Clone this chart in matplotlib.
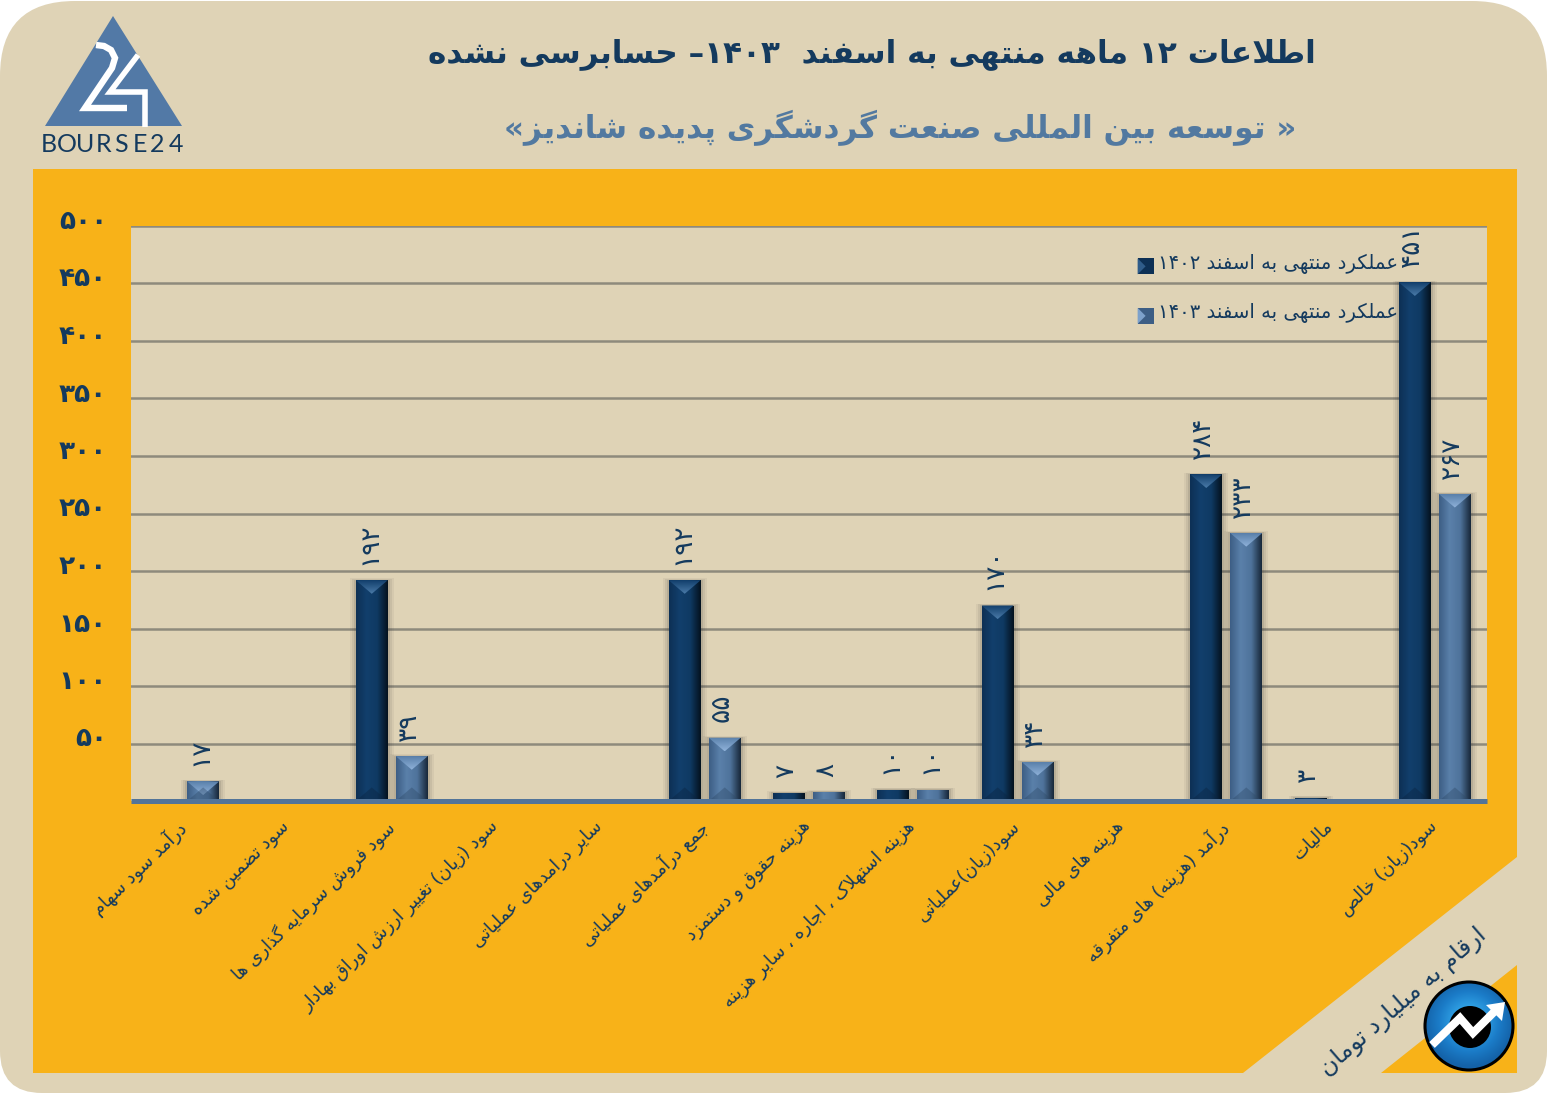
import re
import numpy as np
import matplotlib
matplotlib.use('Agg')
import matplotlib.pyplot as plt
from matplotlib.colors import LinearSegmentedColormap
from matplotlib.legend_handler import HandlerPatch
from matplotlib.patches import Circle, FancyBboxPatch, Polygon, Rectangle
from matplotlib.transforms import ScaledTranslation

# data
categories = ['درآمد سود سهام', 'سود تضمین شده', 'سود فروش سرمایه گذاری ها',
              'سود (زیان) تغییر ارزش اوراق بهادار', 'سایر درامدهای عملیاتی',
              'جمع درآمدهای عملیاتی', 'هزینه حقوق و دستمزد',
              'هزینه استهلاک ، اجاره ، سایر هزینه', 'سود(زیان)عملیاتی',
              'هزینه های مالی', 'درآمد (هزینه) های متفرقه', 'مالیات', 'سود(زیان) خالص']
values_1402 = [0, 0, 192, 0, 0, 192, 7, 10, 170, 0, 284, 3, 451]
values_1403 = [17, 0, 39, 0, 0, 55, 8, 10, 34, 0, 233, 0, 267]
legend_labels = ['عملکرد منتهی به اسفند ۱۴۰۲', 'عملکرد منتهی به اسفند ۱۴۰۳']
y_ticks = [50, 100, 150, 200, 250, 300, 350, 400, 450, 500]
title = 'اطلاعات ۱۲ ماهه منتهی به اسفند  ۱۴۰۳– حسابرسی نشده'
subtitle = '« توسعه بین المللی صنعت گردشگری پدیده شاندیز»'
unit_note = 'ارقام به میلیارد تومان'

BEIGE = '#DFD3B6'
ORANGE = '#F8B218'
NAVY = '#143A5E'
STEEL = '#5279A0'

# matplotlib does not shape arabic script, so pick the presentation forms by hand
FOUR = {'ب': 0xFE8F, 'ت': 0xFE95, 'ج': 0xFE9D, 'ح': 0xFEA1, 'خ': 0xFEA5, 'س': 0xFEB1,
        'ش': 0xFEB5, 'ص': 0xFEB9, 'ض': 0xFEBD, 'ط': 0xFEC1, 'ظ': 0xFEC5, 'ع': 0xFEC9,
        'غ': 0xFECD, 'ف': 0xFED1, 'ق': 0xFED5, 'ل': 0xFEDD, 'م': 0xFEE1, 'ن': 0xFEE5,
        'ه': 0xFEE9, 'پ': 0xFB56, 'چ': 0xFB7A, 'ک': 0xFB8E, 'گ': 0xFB92, 'ی': 0xFBFC}
TWO = {'ا': 0xFE8D, 'آ': 0xFE81, 'د': 0xFEA9, 'ذ': 0xFEAB, 'ر': 0xFEAD, 'ز': 0xFEAF,
       'ژ': 0xFB8A, 'و': 0xFEED}
LAM_ALEF = {'ا': 0xFEFB, 'آ': 0xFEF5}
MIRROR = str.maketrans('()«»', ')(»«')


def fa(s):
    out = []
    i = 0
    while i < len(s):
        c = s[i]
        joined = i > 0 and s[i - 1] in FOUR
        nxt = s[i + 1] if i + 1 < len(s) else ''
        if c == 'ل' and nxt in LAM_ALEF:
            out.append(chr(LAM_ALEF[nxt] + (1 if joined else 0)))
            i += 2
            continue
        if c in FOUR:
            goes_on = nxt in FOUR or nxt in TWO
            out.append(chr(FOUR[c] + ((3 if goes_on else 1) if joined else (2 if goes_on else 0))))
        elif c in TWO:
            out.append(chr(TWO[c] + (1 if joined else 0)))
        else:
            out.append(c)
        i += 1
    visual = ''.join(out)[::-1].translate(MIRROR)
    return re.sub('[۰-۹]+', lambda m: m.group(0)[::-1], visual)


def fa_num(n):
    return str(n).translate(str.maketrans('0123456789', '۰۱۲۳۴۵۶۷۸۹'))


plt.rcParams['font.family'] = ['DejaVu Sans']

W, H = 1547, 1103
fig = plt.figure(figsize=(W / 100, H / 100), dpi=100, facecolor='white')

# frame, drawn in pixels
bg = fig.add_axes([0, 0, 1, 1], zorder=0)
bg.axis('off')
bg.add_patch(FancyBboxPatch((0, 1), W, 700, boxstyle='round,pad=0,rounding_size=75', fc=BEIGE, ec='none'))
bg.add_patch(FancyBboxPatch((0, 300), W, 793, boxstyle='round,pad=0,rounding_size=42', fc=BEIGE, ec='none'))
bg.add_patch(Rectangle((33, 169), 1484, 904, fc=ORANGE, ec='none'))
bg.add_patch(Polygon([(1517, 857), (1517, 965), (1381, 1073), (1243, 1073)], fc=BEIGE, ec='none'))

bg.text(872, 54, fa(title), color=NAVY, fontsize=22.4, fontweight='bold', ha='center', va='center')
bg.text(900, 128, fa(subtitle), color=STEEL, fontsize=22.4, fontweight='bold', ha='center', va='center')
bg.text(1403, 1002, fa(unit_note), color=NAVY, fontsize=17, rotation=41,
        rotation_mode='anchor', ha='center', va='center')

# bourse24 logo
bg.add_patch(Polygon([(113, 16), (182, 126), (45, 126)], fc='#5279A6', ec='none'))
bg.plot([96, 104, 111, 115, 112, 85, 127], [45, 46, 50, 58, 68, 108, 108], color='white', lw=4.6,
        solid_joinstyle='miter', solid_capstyle='butt')
bg.plot([138, 110, 145, 145], [55, 92, 92, 127], color='white', lw=4, solid_joinstyle='miter',
        solid_capstyle='butt')
for i, ch in enumerate('BOURSE24'):
    bg.text(49 + i * 18.1, 144, ch, color=NAVY, fontsize=18, family='Lato', ha='center', va='center')

# round logo bottom right
cx, cy, r = 1469, 1026, 45
yy, xx = np.mgrid[-1:1:200j, -1:1:200j]
shade = np.clip(np.hypot(xx, yy + 0.1), 0, 1)
blue = LinearSegmentedColormap.from_list('blue', ['#58C0F0', '#2FA0E4', '#1B7CC8', '#1462A8'])
disc = Circle((cx, cy), r - 1, fc='none', ec='black', lw=2.2, zorder=3.2)
bg.add_patch(disc)
im = bg.imshow(shade, cmap=blue, extent=(cx - r, cx + r, cy + r, cy - r), aspect='auto', zorder=3.1)
im.set_clip_path(Circle((cx, cy), r - 1, transform=bg.transData))
bg.add_patch(Circle((cx + 1, cy + 1), 21, fc='black', ec='none', zorder=3.3))
bg.plot([1432, 1460, 1473, 1494], [1045, 1018, 1033, 1012], color='white', lw=5.8, zorder=4,
        solid_joinstyle='miter', solid_capstyle='butt')
bg.add_patch(Polygon([(1505, 1002), (1486, 1005), (1502, 1021)], fc='white', ec='none', zorder=4))
bg.set_xlim(0, W)
bg.set_ylim(H, 0)

# chart area
ax = fig.add_axes([131 / W, 1 - 801 / H, 1356 / W, 575 / H], zorder=1, facecolor=BEIGE)
x = np.arange(len(categories))
px_x = 1356 / 13
px_y = 575 / 500
bar_w = 32 / px_x
off = 20 / px_x


def gradient_bars(positions, vals, stops, light, dark):
    bars = ax.bar(positions, vals, bar_w, color=stops[1], zorder=4)
    cmap = LinearSegmentedColormap.from_list('b', stops)
    cap = LinearSegmentedColormap.from_list('c', [stops[1], light])
    for b, v in zip(bars, vals):
        if v == 0:
            continue
        x0, w, h = b.get_x(), b.get_width(), b.get_height()
        # soft shadow
        for pad, a in [(6, 0.05), (4, 0.07), (2, 0.10)]:
            ax.add_patch(Rectangle((x0 - pad / px_x, 0), w + 2 * pad / px_x, h + pad * 0.3 / px_y,
                                   fc='#222222', ec='none', alpha=a, zorder=3))
        im = ax.imshow(np.linspace(0, 1, 64).reshape(1, -1), cmap=cmap, extent=(x0, x0 + w, 0, h),
                       aspect='auto', zorder=4.1)
        im.set_clip_path(b)
        if h * px_y < 15:
            continue
        # bevel, the depth is in y data units
        depth = (w * px_x / 2) * 0.85 / px_y
        tri = Polygon([(x0, h), (x0 + w, h), (x0 + w / 2, h - depth)], fc='none', ec='none',
                      transform=ax.transData)
        top = ax.imshow(np.linspace(0, 1, 32).reshape(-1, 1), cmap=cap,
                        extent=(x0, x0 + w, h - depth, h), aspect='auto', zorder=4.2)
        top.set_clip_path(tri)
        bottom = ax.add_patch(Polygon([(x0, 0), (x0 + w, 0), (x0 + w / 2, depth)], fc=dark, ec='none',
                                      alpha=0.4, zorder=4.2))
        bottom.set_clip_path(b)
    return bars


stops_1402 = ['#0D3055', '#123F6C', '#0F3A63', '#04121F']
stops_1403 = ['#3D5E85', '#5A80AA', '#4F739B', '#18283A']
bars_1402 = gradient_bars(x - off, values_1402, stops_1402, '#4A7AA8', '#0A2340')
bars_1403 = gradient_bars(x + off, values_1403, stops_1403, '#8FB2DA', '#2E4A68')
ax.set_xlim(-0.5, 12.5)
ax.set_ylim(0, 500)

for bars, vals in ((bars_1402, values_1402), (bars_1403, values_1403)):
    for b, v in zip(bars, vals):
        if v == 0:
            continue
        ax.annotate(fa_num(v), (b.get_x() + b.get_width() / 2, v), xytext=(-2, 11),
                    textcoords='offset points', rotation=90, ha='center', va='bottom',
                    color=NAVY, fontsize=19, clip_on=True, annotation_clip=False, zorder=5)

ax.set_axisbelow(True)
ax.set_yticks(y_ticks)
ax.set_yticklabels([fa_num(v) for v in y_ticks], fontweight='bold', fontsize=19, color=NAVY,
                   va='baseline')
ax.yaxis.grid(True, color='#8E8A7C', lw=1.8, zorder=1)
ax.xaxis.grid(False)
ax.set_xticks(x)
ax.set_xticklabels([fa(c) for c in categories], rotation=44, rotation_mode='anchor', ha='right',
                   va='top', fontsize=12.9, color=NAVY)
ax.tick_params(axis='x', length=0, pad=13)
ax.tick_params(axis='y', length=0, pad=18)
shift = ScaledTranslation(-7 / 100, 2 / 100, fig.dpi_scale_trans)
for lbl in ax.get_xticklabels():
    lbl.set_transform(lbl.get_transform() + shift)
shift_y = ScaledTranslation(1 / 100, -3 / 100, fig.dpi_scale_trans)
for lbl in ax.get_yticklabels():
    lbl.set_transform(lbl.get_transform() + shift_y)
for side in ('left', 'right', 'top'):
    ax.spines[side].set_visible(False)
ax.spines['bottom'].set_color('#527499')
ax.spines['bottom'].set_linewidth(3.6)
ax.spines['bottom'].set_capstyle('butt')
ax.spines['bottom'].set_zorder(6)


class SwatchHandler(HandlerPatch):
    def create_artists(self, legend, orig, xd, yd, w, h, fontsize, trans):
        side = 11.5
        y0 = yd - 4
        rect = Rectangle((xd, y0), side, side, fc=orig.get_facecolor(), transform=trans)
        tri = Polygon([(xd, y0), (xd, y0 + side), (xd + side / 2, y0 + side / 2)],
                      fc=orig.get_edgecolor(), transform=trans)
        return [rect, tri]


handles = [Rectangle((0, 0), 1, 1, fc='#0D3055', ec='#2F5C8A'),
           Rectangle((0, 0), 1, 1, fc='#3D5E85', ec='#7DA1CB')]
leg = ax.legend(handles, [fa(s) for s in legend_labels], loc='upper left',
                bbox_to_anchor=((1120 - 131) / 1356, 1 - 10 / 575), frameon=False, fontsize=14.1,
                labelcolor=NAVY, labelspacing=1.5, handlelength=1, handletextpad=0.05,
                handler_map={Rectangle: SwatchHandler()})
leg.set_zorder(2)

fig.savefig('out.png', dpi=100, facecolor='white')
